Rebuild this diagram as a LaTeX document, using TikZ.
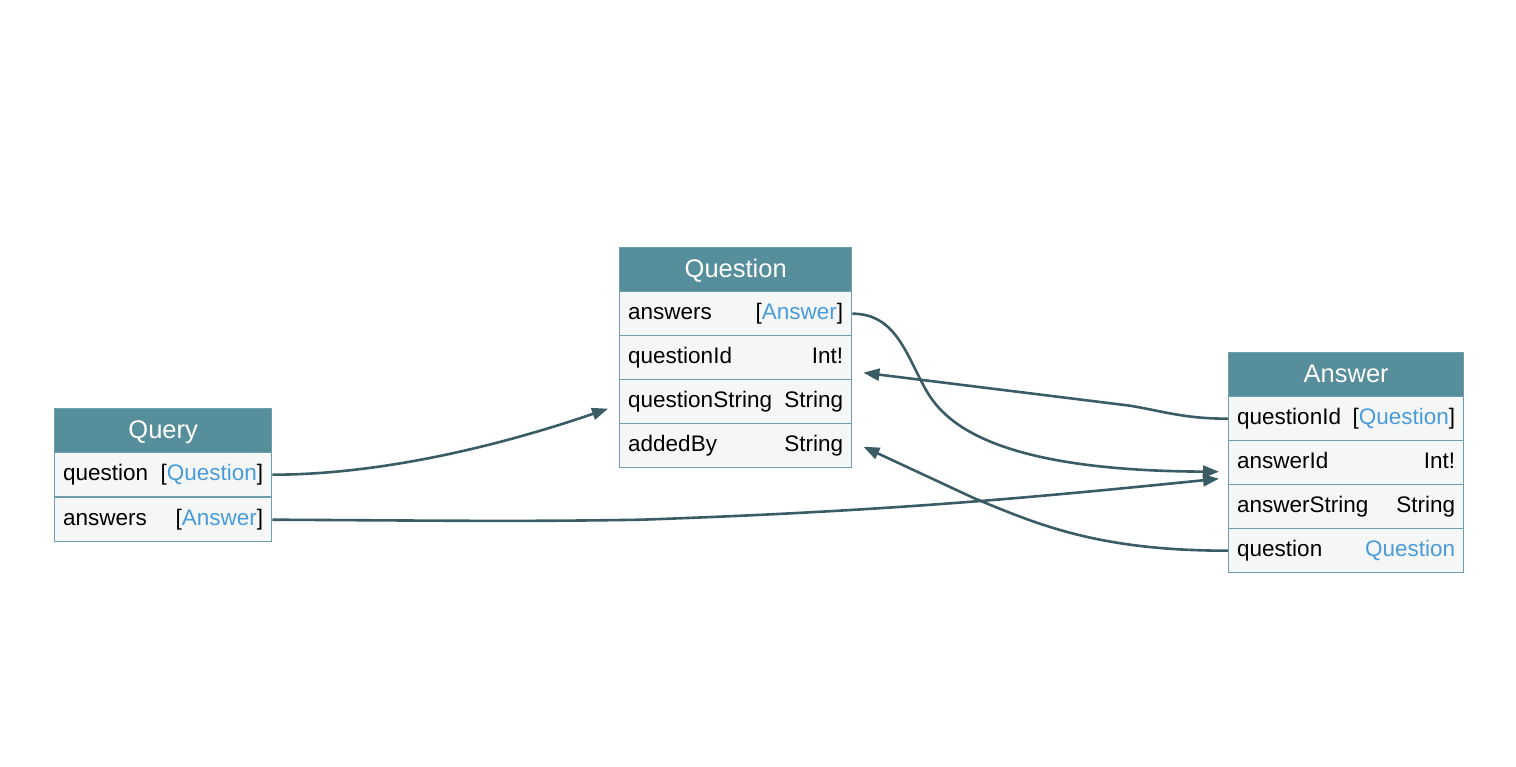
\documentclass[tikz,border=0pt]{standalone}
\usepackage{fontspec}
\setmainfont{Liberation Sans}
\usetikzlibrary{arrows.meta,calc}
\definecolor{hdr}{HTML}{568E9B}
\definecolor{rowbg}{HTML}{F5F7F6}
\definecolor{bord}{HTML}{6E9EAA}
\definecolor{typ}{HTML}{4A9BD9}
\definecolor{edgec}{HTML}{3A5C65}
\begin{document}
\begin{tikzpicture}[x=1pt,y=-1pt,
  hdrbox/.style={draw=bord, fill=hdr, text=white, font=\fontsize{25.5}{30}\selectfont,
    minimum height=44pt, minimum width=#1, inner sep=0pt, anchor=north west, line width=1.4pt,
    text height=18pt, text depth=2pt},
  rowbox/.style={draw=bord, fill=rowbg, font=\fontsize{22.5}{27}\selectfont,
    minimum height=44pt, text width=#1, inner xsep=8.5pt, inner ysep=0pt, anchor=north west,
    line width=1.4pt, text height=16pt, text depth=5pt, align=left},
  link/.style={draw=edgec, line width=2.6pt, -{Triangle[length=16pt,width=12pt]}}
]
\useasboundingbox (0,0) rectangle (1516,767);
\newcommand{\ty}[1]{\textcolor{typ}{#1}}

% Question
\node[hdrbox=232pt] (qnh) at (619,247) {Question};
\node[rowbox=215pt] (qn1) at (619,291) {answers\hfill[\ty{Answer}]};
\node[rowbox=215pt] (qn2) at (619,335) {questionId\hfill Int!};
\node[rowbox=215pt] (qn3) at (619,379) {questionString\hfill String};
\node[rowbox=215pt] (qn4) at (619,423) {addedBy\hfill String};

% Answer
\node[hdrbox=235pt] (anh) at (1228,352) {Answer};
\node[rowbox=218pt] (an1) at (1228,396) {questionId\hfill[\ty{Question}]};
\node[rowbox=218pt] (an2) at (1228,440) {answerId\hfill Int!};
\node[rowbox=218pt] (an3) at (1228,484) {answerString\hfill String};
\node[rowbox=218pt] (an4) at (1228,528) {question\hfill \ty{Question}};

% Query
\node[hdrbox=217pt] (qyh) at (54,408) {Query};
\node[rowbox=200pt] (qy1) at (54,452) {question\hfill[\ty{Question}]};
\node[rowbox=200pt] (qy2) at (54,497) {answers\hfill[\ty{Answer}]};

% arrow end points
\coordinate (e1) at ($(qn3.west)+(-11,7)$);
\coordinate (e2) at ($(an2.west)+(-9,16)$);
\coordinate (e3) at ($(an2.west)+(-9,9)$);
\coordinate (e4) at ($(qn2.east)+(11,15)$);
\coordinate (e5) at ($(qn4.east)+(11,1)$);

% edges
\draw[link] (qy1.east) .. controls +(109,0) and +(-108,37) .. (e1);
\draw[link] (qy2.east) .. controls +(179,1) and +(-120,2) .. ($(qy2.east)+(369,0)$)
   .. controls +(260,-9) and +(-169,17) .. (e2);
\draw[link] (qn1.east) .. controls +(44,0) and +(-20,-35) .. ($(qn1.east)+(74,77)$)
   .. controls +(20,35) and +(-219,-1) .. (e3);
\draw[link] (an1.west) .. controls +(-43,0) and +(35,6) .. ($(an1.west)+(-98,-13)$) -- (e4);
\draw[link] (an4.west) .. controls +(-128,0) and +(67,28) .. ($(an4.west)+(-255,-53)$) -- (e5);
\end{tikzpicture}
\end{document}
